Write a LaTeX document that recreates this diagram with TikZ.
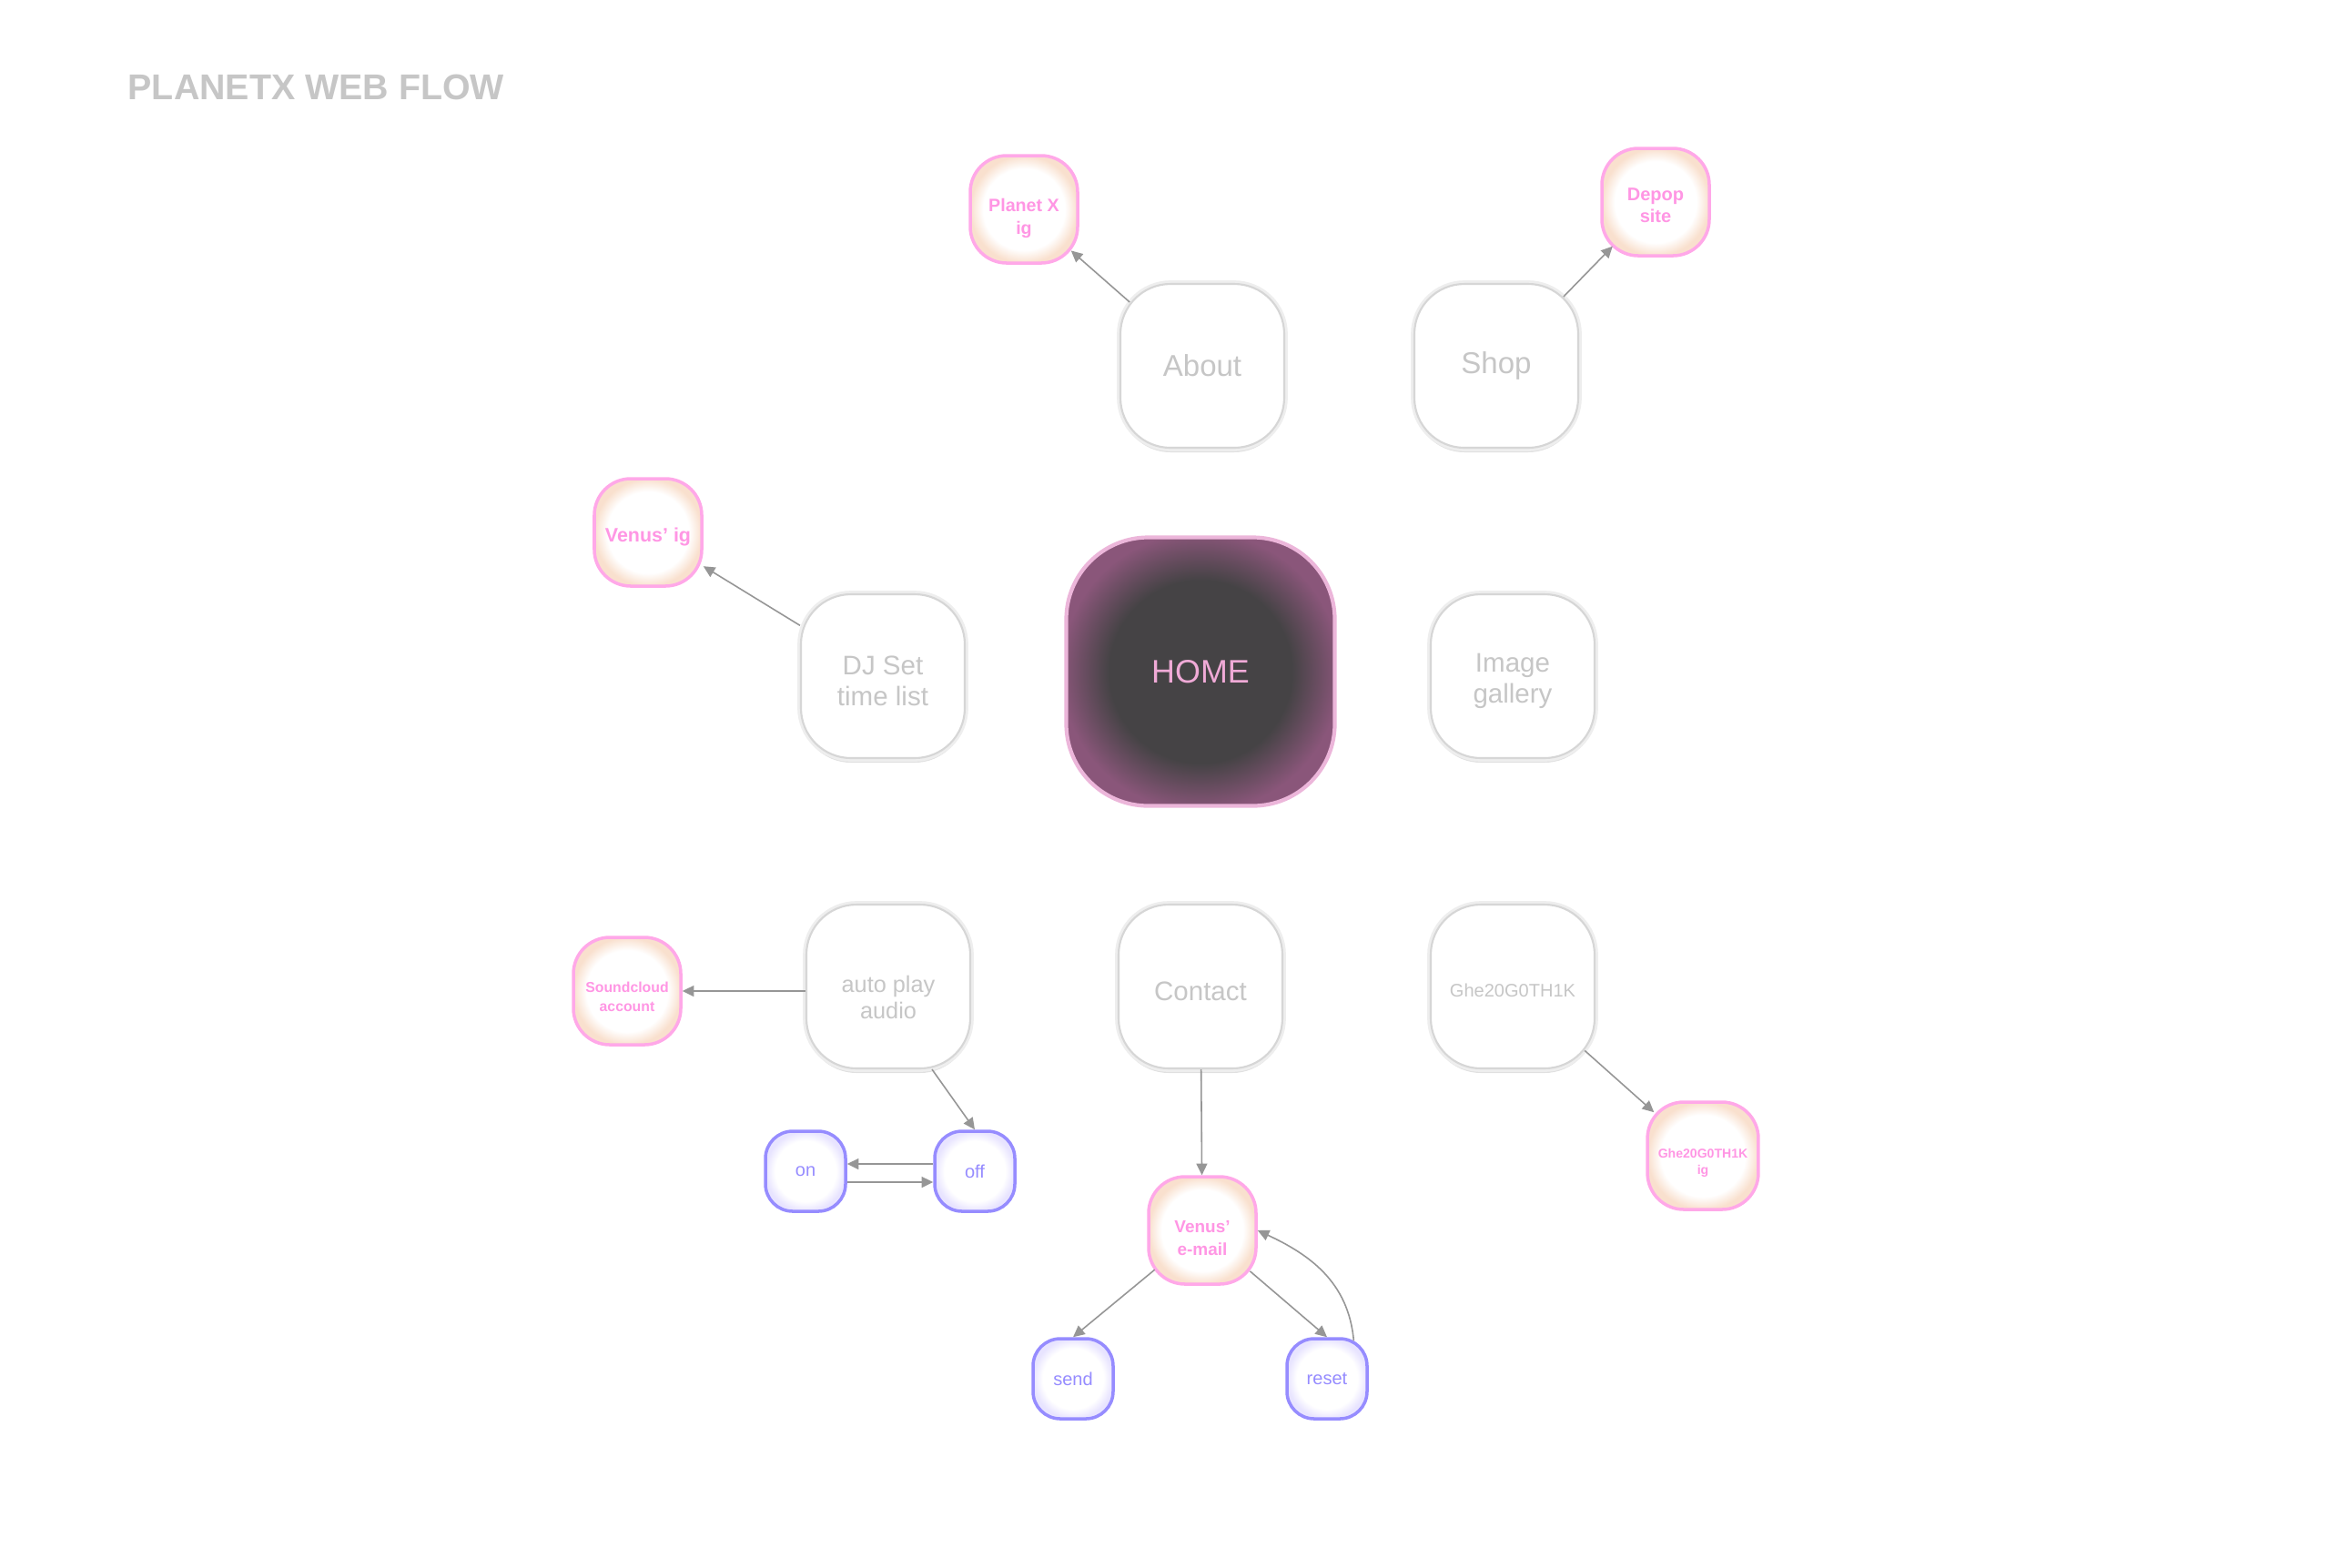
\documentclass[tikz,border=0pt]{standalone}
\usepackage{fontspec}
\setmainfont{Liberation Sans}
\usetikzlibrary{arrows.meta, positioning, shadows}

\definecolor{pagetext}{RGB}{198,198,198}
\definecolor{pageline}{RGB}{214,214,214}
\definecolor{pageband}{RGB}{238,238,238}
\definecolor{linkline}{RGB}{255,168,232}
\definecolor{linktext}{RGB}{255,150,228}
\definecolor{linkglow}{RGB}{249,224,206}
\definecolor{btnline}{RGB}{150,140,255}
\definecolor{btnglow}{RGB}{232,228,255}
\definecolor{homedark}{RGB}{69,67,69}
\definecolor{homeedge}{RGB}{138,86,122}
\definecolor{homeline}{RGB}{236,182,218}
\definecolor{hometext}{RGB}{240,170,215}
\definecolor{arrowgray}{RGB}{150,150,150}

\pgfdeclareradialshading{linkshade}{\pgfpointorigin}{color(0bp)=(white); color(19bp)=(white); color(25bp)=(linkglow); color(50bp)=(linkglow)}
\pgfdeclareradialshading{btnshade}{\pgfpointorigin}{color(0bp)=(white); color(19bp)=(white); color(25bp)=(btnglow); color(50bp)=(btnglow)}
\pgfdeclareradialshading{homeshade}{\pgfpointorigin}{color(0bp)=(homedark); color(17bp)=(homedark); color(26bp)=(homeedge); color(50bp)=(homeedge)}

\begin{document}
\begin{tikzpicture}[
    pagebox/.style={rectangle, rounded corners=0.55cm, draw=pageline, line width=0.6pt, fill=white, minimum size=1.8cm, text=pagetext, align=center, font=\fontsize{8.4}{9.7}\selectfont, drop shadow={shadow xshift=0cm, shadow yshift=-0.05cm, opacity=0.12, fill=black}, preaction={draw=pageband, line width=2.2pt}},
    linkbox/.style={rectangle, rounded corners=0.4cm, draw=linkline, line width=1pt, shade, shading=linkshade, minimum size=1.18cm, text=linktext, align=center, font=\bfseries\fontsize{5.6}{7}\selectfont},
    btnbox/.style={rectangle, rounded corners=0.3cm, draw=btnline, line width=1pt, shade, shading=btnshade, minimum size=0.88cm, text=btnline, font=\fontsize{5.7}{7}\selectfont},
    homebox/.style={rectangle, rounded corners=0.9cm, draw=homeline, line width=1.2pt, shade, shading=homeshade, minimum size=2.95cm, text=hometext, font=\fontsize{10.2}{12}\selectfont},
    arrow/.style={-{Triangle[length=3.6pt, width=3.4pt]}, draw=arrowgray, line width=0.45pt},
]

\fill[white] (0,0) rectangle (25.6,-17.22);
\useasboundingbox (0,0) rectangle (25.6,-17.22);

% Title
\node[anchor=base west, inner sep=0pt, text=pagetext, font=\bfseries\fontsize{11.2}{13}\selectfont] (title) at (1.40,-1.09) {PLANETX WEB FLOW};

% Pages
\node[homebox] (home) at (13.19,-7.38) {HOME};
\node[pagebox, font=\fontsize{9.4}{11}\selectfont] (about) at (13.21,-4.02) {About};
\node[pagebox, font=\fontsize{9.4}{11}\selectfont] (shop) at (16.44,-4.02) {Shop};
\node[pagebox] (dj) at (9.70,-7.43) {\rule{0pt}{9pt}DJ Set\\time list};
\node[pagebox] (gallery) at (16.62,-7.43) {\rule{0pt}{9pt}Image\\gallery};
\node[pagebox, font=\fontsize{7.2}{8.4}\selectfont] (autoplay) at (9.76,-10.84) {\rule{0pt}{12pt}auto play\\audio};
\node[pagebox] (contact) at (13.19,-10.84) {\rule{0pt}{9pt}Contact};
\node[pagebox, font=\fontsize{5.7}{7}\selectfont] (ghe) at (16.62,-10.84) {\rule{0pt}{6.5pt}Ghe20G0TH1K};

% External links
\node[linkbox] (planetig) at (11.25,-2.30) {\rule{0pt}{9.7pt}Planet X\\ig};
\node[linkbox, font=\bfseries\fontsize{5.7}{7}\selectfont] (depop) at (18.19,-2.22) {\rule{0pt}{6pt}Depop\\site};
\node[linkbox, font=\bfseries\fontsize{6.1}{7}\selectfont] (venusig) at (7.12,-5.85) {\rule{0pt}{7.2pt}Venus’ ig};
\node[linkbox, font=\bfseries\fontsize{4.5}{6}\selectfont] (soundcloud) at (6.89,-10.89) {\rule{0pt}{7.1pt}Soundcloud\\account};
\node[linkbox, font=\bfseries\fontsize{5.4}{7}\selectfont] (mail) at (13.21,-13.52) {\rule{0pt}{8.5pt}Venus’\\e-mail};
\node[linkbox, font=\bfseries\fontsize{4.0}{5.1}\selectfont] (gheig) at (18.71,-12.70) {\rule{0pt}{7.5pt}Ghe20G0TH1K\\ig};

% Buttons
\node[btnbox] (on) at (8.85,-12.87) {on};
\node[btnbox] (off) at (10.71,-12.87) {off};
\node[btnbox] (send) at (11.79,-15.15) {send};
\node[btnbox] (reset) at (14.58,-15.15) {reset};

% Arrows
\draw[arrow, shorten <=-0.15cm, shorten >=-0.12cm] (about) -- (planetig);
\draw[arrow, shorten <=-0.21cm, shorten >=-0.17cm] (shop) -- (depop);
\draw[arrow] (dj) -- (venusig);
\draw[arrow] (autoplay.west |- soundcloud) -- (soundcloud.east);
\draw[arrow] ([xshift=0.48cm]autoplay.south) -- (off.north);
\draw[arrow] ([yshift=0.08cm]off.west) -- ([yshift=0.08cm]on.east);
\draw[arrow] ([yshift=-0.12cm]on.east) -- ([yshift=-0.12cm]off.west);
\draw[arrow] (contact) -- (mail);
\draw[arrow, shorten <=-0.11cm] (mail) -- (send.north);
\draw[arrow, shorten <=-0.11cm] (mail) -- (reset.north);
\draw[arrow, shorten <=-0.04cm] ([xshift=0.29cm]reset.north) to[out=95, in=-25] (mail.east);
\draw[arrow, shorten <=-0.16cm, shorten >=-0.12cm] (ghe) -- (gheig);

\end{tikzpicture}
\end{document}
